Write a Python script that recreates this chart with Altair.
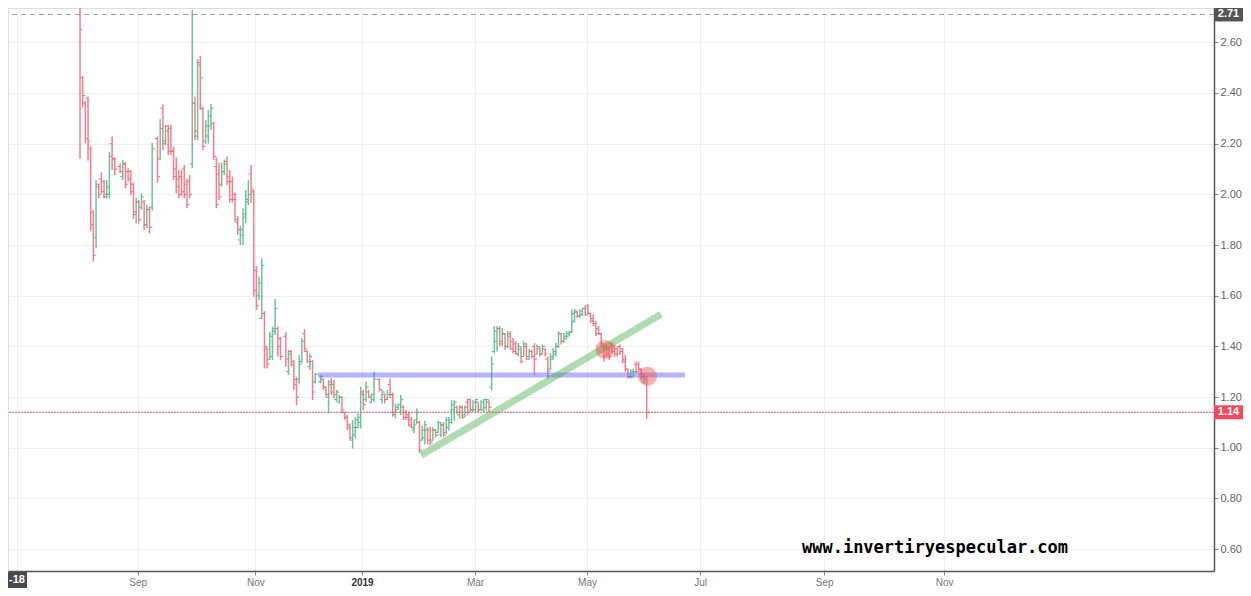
import altair as alt
import pandas as pd

# ---- daily OHLC bars (Aug 2018 - Jun 2019) ----
open_ = [
    2.78, 2.46, 2.36, 2.38, 2.18, 1.93, 1.83, 2.04, 2.06, 2.05,
    1.99, 2.00, 2.20, 2.14, 2.11, 2.07, 2.12, 2.09, 2.09, 2.04,
    1.92, 1.97, 1.95, 1.97, 1.88, 1.94, 1.95, 2.22, 2.14, 2.34,
    2.21, 2.27, 2.26, 2.17, 2.10, 2.06, 2.07, 2.10, 2.04, 2.05,
    2.12, 2.36, 2.25, 2.52, 2.34, 2.21, 2.23, 2.27, 2.28, 2.11,
    2.08, 2.04, 2.09, 2.13, 2.07, 2.05, 2.00, 1.89, 1.82, 1.84,
    1.91, 1.97, 2.08,
    2.01, 1.70, 1.60, 1.51, 1.53, 1.39, 1.35, 1.36, 1.47, 1.47,
    1.43, 1.44, 1.30, 1.38, 1.34, 1.27, 1.27, 1.34, 1.45, 1.38,
    1.32, 1.34, 1.26, 1.26, 1.27, 1.24, 1.20, 1.26, 1.25, 1.19,
    1.18, 1.20, 1.14, 1.12, 1.09, 1.03, 1.05, 1.08, 1.10, 1.22,
    1.19, 1.22, 1.18, 1.19, 1.27, 1.19, 1.21, 1.19, 1.25, 1.21,
    1.13, 1.15, 1.14, 1.16, 1.14, 1.13, 1.11, 1.07, 1.11,
    1.10, 1.03, 1.04, 1.07, 1.07, 1.03, 1.07, 1.06, 1.05, 1.09,
    1.06, 1.08, 1.10, 1.15, 1.16, 1.13, 1.16, 1.13, 1.18, 1.19,
    1.15, 1.15, 1.18, 1.15, 1.15, 1.16, 1.18,
    1.24, 1.38, 1.42, 1.47, 1.41, 1.45, 1.40, 1.45, 1.42, 1.41,
    1.37, 1.39, 1.36, 1.40, 1.35, 1.38, 1.40, 1.37, 1.39, 1.37,
    1.39, 1.35, 1.31, 1.35, 1.37, 1.40, 1.45, 1.42, 1.43, 1.44,
    1.46, 1.50, 1.535, 1.52, 1.525, 1.55, 1.56, 1.53, 1.51, 1.49,
    1.47, 1.45, 1.40, 1.40, 1.39, 1.41, 1.40, 1.39, 1.40, 1.39,
    1.35, 1.31, 1.28, 1.28, 1.33, 1.33, 1.31, 1.26, 1.27,
]
high_ = [
    2.80, 2.467, 2.368, 2.386, 2.19, 1.938, 2.057, 2.043, 2.087, 2.057,
    2.057, 2.168, 2.228, 2.146, 2.122, 2.136, 2.129, 2.103, 2.096, 2.046,
    1.987, 1.978, 2.004, 1.978, 1.958, 1.951, 2.204, 2.228, 2.297, 2.355,
    2.274, 2.274, 2.274, 2.188, 2.146, 2.096, 2.096, 2.116, 2.063, 2.076,
    2.728, 2.386, 2.533, 2.546, 2.346, 2.293, 2.333, 2.357, 2.287, 2.146,
    2.125, 2.125, 2.138, 2.149, 2.096, 2.070, 2.007, 1.914, 1.875, 1.945,
    2.017, 2.057, 2.116,
    2.017, 1.717, 1.675, 1.747, 1.539, 1.399, 1.458, 1.478, 1.587, 1.478,
    1.438, 1.458, 1.386, 1.386, 1.346, 1.280, 1.366, 1.432, 1.468, 1.386,
    1.372, 1.346, 1.296, 1.287, 1.274, 1.241, 1.267, 1.274, 1.267, 1.228,
    1.208, 1.201, 1.142, 1.129, 1.096, 1.109, 1.122, 1.136, 1.241, 1.228,
    1.261, 1.228, 1.214, 1.300, 1.274, 1.228, 1.214, 1.228, 1.274, 1.217,
    1.175, 1.175, 1.208, 1.168, 1.149, 1.142, 1.122, 1.109, 1.155,
    1.107, 1.087, 1.107, 1.081, 1.083, 1.081, 1.074, 1.107, 1.101, 1.101,
    1.121, 1.121, 1.187, 1.187, 1.167, 1.167, 1.167, 1.167, 1.194, 1.194,
    1.187, 1.194, 1.181, 1.187, 1.194, 1.194, 1.187,
    1.36, 1.48, 1.48, 1.48, 1.473, 1.453, 1.46, 1.46, 1.433, 1.42,
    1.413, 1.40, 1.42, 1.413, 1.39, 1.387, 1.413, 1.407, 1.40, 1.407,
    1.393, 1.36, 1.373, 1.393, 1.413, 1.46, 1.453, 1.453, 1.46, 1.46,
    1.547, 1.547, 1.54, 1.547, 1.553, 1.56, 1.567, 1.533, 1.527, 1.50,
    1.48, 1.453, 1.407, 1.407, 1.40, 1.413, 1.407, 1.40, 1.407, 1.393,
    1.367, 1.313, 1.31, 1.313, 1.34, 1.34, 1.313, 1.293, 1.28,
]
low_ = [
    2.14, 2.343, 2.201, 2.133, 1.855, 1.734, 1.787, 1.984, 2.004, 1.984,
    1.984, 1.984, 2.096, 2.076, 2.083, 2.057, 2.024, 2.050, 1.997, 1.903,
    1.886, 1.886, 1.938, 1.859, 1.866, 1.846, 1.936, 2.046, 2.136, 2.175,
    2.195, 2.155, 2.155, 2.057, 2.004, 1.984, 1.991, 1.984, 1.945, 1.984,
    2.103, 2.214, 2.214, 2.333, 2.175, 2.199, 2.201, 2.254, 2.136, 1.945,
    1.978, 2.030, 2.076, 2.037, 1.967, 1.967, 1.892, 1.839, 1.800, 1.800,
    1.886, 1.958, 1.967,
    1.596, 1.543, 1.583, 1.507, 1.313, 1.313, 1.346, 1.346, 1.445, 1.359,
    1.346, 1.320, 1.287, 1.320, 1.228, 1.168, 1.254, 1.333, 1.379, 1.333,
    1.307, 1.188, 1.254, 1.254, 1.228, 1.201, 1.136, 1.208, 1.195, 1.182,
    1.175, 1.136, 1.109, 1.070, 1.030, 0.997, 1.037, 1.076, 1.076, 1.149,
    1.182, 1.195, 1.175, 1.182, 1.221, 1.175, 1.175, 1.188, 1.195, 1.122,
    1.116, 1.149, 1.129, 1.109, 1.109, 1.083, 1.076, 1.057, 1.094,
    0.981, 1.028, 1.014, 1.014, 1.010, 1.028, 1.041, 1.058, 1.041, 1.041,
    1.054, 1.068, 1.094, 1.107, 1.134, 1.114, 1.114, 1.121, 1.127, 1.141,
    1.141, 1.141, 1.141, 1.147, 1.141, 1.147, 1.141,
    1.227, 1.373, 1.38, 1.40, 1.40, 1.387, 1.393, 1.387, 1.373, 1.367,
    1.36, 1.333, 1.36, 1.347, 1.347, 1.353, 1.287, 1.367, 1.36, 1.367,
    1.36, 1.273, 1.307, 1.347, 1.36, 1.393, 1.407, 1.413, 1.427, 1.44,
    1.453, 1.493, 1.513, 1.513, 1.52, 1.52, 1.527, 1.493, 1.48, 1.44,
    1.447, 1.40, 1.34, 1.36, 1.347, 1.373, 1.36, 1.36, 1.367, 1.333,
    1.30, 1.273, 1.273, 1.277, 1.293, 1.30, 1.267, 1.253, 1.113,
]
close_ = [
    2.65, 2.39, 2.22, 2.21, 1.88, 1.76, 2.03, 2.00, 2.01, 2.00,
    2.03, 2.15, 2.14, 2.10, 2.09, 2.12, 2.04, 2.06, 2.01, 1.93,
    1.97, 1.90, 1.99, 1.88, 1.94, 1.87, 2.18, 2.07, 2.26, 2.20,
    2.25, 2.17, 2.17, 2.07, 2.03, 2.00, 2.01, 2.00, 1.96, 2.00,
    2.36, 2.23, 2.51, 2.46, 2.19, 2.27, 2.31, 2.34, 2.15, 1.96,
    1.99, 2.09, 2.12, 2.05, 1.98, 1.98, 1.90, 1.86, 1.86, 1.92,
    1.98, 2.00, 2.02,
    1.62, 1.56, 1.65, 1.72, 1.40, 1.33, 1.44, 1.46, 1.55, 1.40,
    1.36, 1.35, 1.37, 1.33, 1.25, 1.20, 1.33, 1.42, 1.39, 1.34,
    1.36, 1.22, 1.29, 1.28, 1.24, 1.21, 1.25, 1.22, 1.21, 1.22,
    1.20, 1.15, 1.12, 1.08, 1.04, 1.08, 1.11, 1.12, 1.21, 1.17,
    1.24, 1.20, 1.21, 1.27, 1.23, 1.22, 1.19, 1.21, 1.21, 1.14,
    1.16, 1.17, 1.19, 1.12, 1.12, 1.09, 1.08, 1.09, 1.14,
    0.99, 1.07, 1.09, 1.03, 1.02, 1.07, 1.05, 1.10, 1.09, 1.05,
    1.11, 1.11, 1.17, 1.18, 1.14, 1.16, 1.12, 1.16, 1.14, 1.15,
    1.18, 1.19, 1.15, 1.18, 1.19, 1.19, 1.16,
    1.33, 1.46, 1.47, 1.42, 1.45, 1.40, 1.44, 1.39, 1.38, 1.37,
    1.40, 1.34, 1.41, 1.36, 1.38, 1.36, 1.35, 1.40, 1.37, 1.40,
    1.37, 1.30, 1.36, 1.38, 1.40, 1.45, 1.42, 1.44, 1.45, 1.455,
    1.53, 1.54, 1.52, 1.54, 1.55, 1.525, 1.53, 1.50, 1.49, 1.45,
    1.45, 1.41, 1.36, 1.37, 1.36, 1.38, 1.37, 1.37, 1.38, 1.34,
    1.31, 1.28, 1.30, 1.30, 1.30, 1.31, 1.28, 1.28, 1.14,
]
# trading sessions (session numbers from 2 Aug 2018) whose bar could not be read off the picture
unread_sessions = [14, 28, 76, 89, 111]

# ---- axis labels (session number at which each month starts) ----
month_pos = [-23.4, 21.6, 65.6, 105.5, 147.8, 189.7, 232.0, 278.4, 323.3]
month_lbl = ["", "Sep", "Nov", "2019", "Mar", "May", "Jul", "Sep", "Nov"]
price_ticks = [0.6, 0.8, 1.0, 1.2, 1.4, 1.6, 1.8, 2.0, 2.2, 2.4, 2.6]

# ---- reference levels and drawings (session, price) ----
last_close = [1.14]
range_high = [2.71]
support_x = [89.0, 226.3]
support_y = [1.287, 1.287]
trend_x = [127.6, 217.4]
trend_y = [0.970, 1.527]
circle_x = [196.4, 212.3]
circle_y = [1.388, 1.282]
site = ["www.invertiryespecular.com"]
corner = ["-18"]

N = len(open_)
sessions = [d for d in range(N + len(unread_sessions)) if d not in unread_sessions]
bars = pd.DataFrame({"i": sessions, "o": open_, "h": high_, "l": low_, "c": close_})
bars["d"] = ["up" if c >= o else "down" for o, c in zip(open_, close_)]

W, H = 1206, 563
xscale = alt.Scale(domain=[-26.94, 424.24], nice=False, zero=False)
yscale = alt.Scale(domain=[0.5136, 2.7354], nice=False, zero=False)

label_expr = " : ".join(f"datum.value == {p} ? '{l}'" for p, l in zip(month_pos, month_lbl)) + " : ''"
bold_test = f"datum.value == {month_pos[3]}"

xaxis = alt.Axis(
    orient="bottom", values=month_pos, labelExpr=label_expr, grid=True,
    gridColor="#efefef", domainColor="#555555", domainWidth=1.5, tickSize=4,
    tickColor="#888888", labelFont="Liberation Sans", labelFontSize=10,
    labelColor={"condition": {"test": bold_test, "value": "#333333"}, "value": "#777777"},
    labelFontWeight={"condition": {"test": bold_test, "value": "bold"}, "value": "normal"},
    labelPadding=2, labelFlush=False, labelOverlap=False, title=None,
)
yaxis = alt.Axis(
    orient="right", values=price_ticks, format=".2f", grid=True, gridColor="#efefef",
    domainColor="#555555", domainWidth=1.5, tickSize=4, tickColor="#888888",
    labelFont="Liberation Sans", labelFontSize=11, labelColor="#666666",
    labelPadding=2, labelOverlap=False, title=None,
)

color = alt.Color("d:N", scale=alt.Scale(domain=["up", "down"], range=["#3fae78", "#ef5466"]), legend=None)

high_line = alt.Chart(pd.DataFrame({"p": range_high})).mark_rule(
    color="#9e9e9e", strokeDash=[5, 4], strokeWidth=1
).encode(y=alt.Y("p:Q", scale=yscale, title=None))

last_line = alt.Chart(pd.DataFrame({"p": last_close})).mark_rule(
    color="#f05060", strokeDash=[2, 1], strokeWidth=1
).encode(y=alt.Y("p:Q", scale=yscale, title=None))

wicks = alt.Chart(bars).mark_rule(strokeWidth=1.5, opacity=0.75, clip=True).encode(
    x=alt.X("i:Q", scale=xscale, axis=xaxis, title=None),
    y=alt.Y("l:Q", scale=yscale, axis=yaxis, title=None),
    y2="h:Q",
    color=color,
)
opens = alt.Chart(bars).mark_tick(orient="horizontal", size=2, thickness=1, xOffset=-1.5, opacity=0.9, clip=True).encode(
    x=alt.X("i:Q", scale=xscale, title=None), y=alt.Y("o:Q", scale=yscale, title=None), color=color
)
closes = alt.Chart(bars).mark_tick(orient="horizontal", size=2, thickness=1, xOffset=1.5, opacity=0.9, clip=True).encode(
    x=alt.X("i:Q", scale=xscale, title=None), y=alt.Y("c:Q", scale=yscale, title=None), color=color
)

support = alt.Chart(pd.DataFrame({"x": support_x, "y": support_y})).mark_line(
    color="#6a6aff", opacity=0.5, strokeWidth=5, strokeCap="butt"
).encode(x=alt.X("x:Q", scale=xscale, title=None), y=alt.Y("y:Q", scale=yscale, title=None))

trend = alt.Chart(pd.DataFrame({"x": trend_x, "y": trend_y})).mark_line(
    color="#4caf50", opacity=0.45, strokeWidth=7, strokeCap="butt"
).encode(x=alt.X("x:Q", scale=xscale, title=None), y=alt.Y("y:Q", scale=yscale, title=None))

circles = alt.Chart(pd.DataFrame({"x": circle_x, "y": circle_y})).mark_circle(
    size=360, color="#f05050", opacity=0.45
).encode(x=alt.X("x:Q", scale=xscale, title=None), y=alt.Y("y:Q", scale=yscale, title=None))

tags = pd.DataFrame({"p": range_high + last_close, "bg": ["#555555", "#f04a5c"]})
tag_box = alt.Chart(tags).mark_tick(orient="horizontal", size=29, thickness=14, opacity=1).encode(
    x=alt.value(1220.5), y=alt.Y("p:Q", scale=yscale, title=None), color=alt.Color("bg:N", scale=None)
)
tag_txt = alt.Chart(tags).mark_text(
    color="white", fontWeight="bold", fontSize=11, font="Liberation Sans"
).encode(x=alt.value(1220.5), y=alt.Y("p:Q", scale=yscale, title=None), text=alt.Text("p:Q", format=".2f"))

watermark = alt.Chart(pd.DataFrame({"t": site})).mark_text(
    font="DejaVu Sans Mono", fontWeight="bold", fontSize=17, color="#000000"
).encode(x=alt.value(927), y=alt.value(540), text="t:N")

corner_box = alt.Chart(pd.DataFrame({"t": corner})).mark_rect(color="#4a4a4a").encode(
    x=alt.value(0), x2=alt.value(19), y=alt.value(564), y2=alt.value(580)
)
corner_txt = alt.Chart(pd.DataFrame({"t": corner})).mark_text(
    color="white", fontSize=11, fontWeight="bold", align="right", font="Liberation Sans"
).encode(x=alt.value(17), y=alt.value(572), text="t:N")

chart = alt.layer(
    high_line, last_line, wicks, opens, closes, support, trend, circles,
    tag_box, tag_txt, watermark, corner_box, corner_txt,
).properties(
    width=W, height=H,
    autosize=alt.AutoSizeParams(type="none"),
    padding={"left": 0, "top": 0, "right": 29, "bottom": 17},
).configure_view(strokeWidth=0).configure(background="white")

chart.save("out.html", embed_options={"renderer": "svg", "actions": False})
